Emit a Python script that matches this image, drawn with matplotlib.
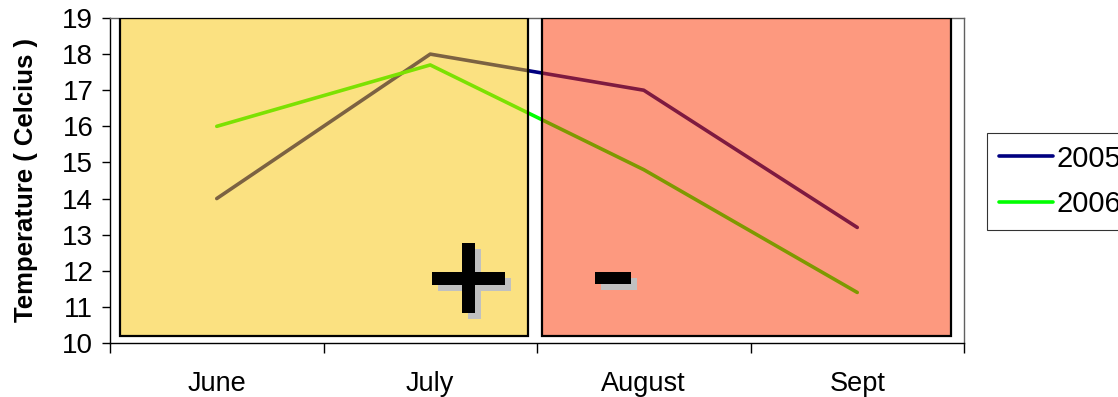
import matplotlib
matplotlib.use("Agg")
import matplotlib.pyplot as plt
from matplotlib.patches import Rectangle

months = ["June", "July", "August", "Sept"]
temp_2005 = [14.0, 18.0, 17.0, 13.2]
temp_2006 = [16.0, 17.7, 14.8, 11.4]
y_ticks = list(range(10, 20))

plt.rcParams['font.family'] = ['Liberation Sans', 'DejaVu Sans']

fig = plt.figure(figsize=(11.18, 3.97), dpi=100)
W, H = 1118, 397
ax = fig.add_axes([110 / W, 1 - 343 / H, (964 - 110) / W, (343 - 18) / H])

xpos = [i + 0.5 for i in range(len(months))]
ax.plot(xpos, temp_2005, color='#000080', lw=2.6, label='2005', zorder=2,
        solid_capstyle='round')
ax.plot(xpos, temp_2006, color='#00FF00', lw=2.6, label='2006', zorder=2,
        solid_capstyle='round')

# semi-transparent shaded panels over the lines
ax.add_patch(Rectangle((0.047, 10.19), 1.911, 8.81, facecolor='#F9C505',
                       alpha=0.5, edgecolor='none', zorder=3))
ax.add_patch(Rectangle((0.047, 10.19), 1.911, 8.81, facecolor='none',
                       edgecolor='black', lw=1.6, zorder=4))
ax.add_patch(Rectangle((2.023, 10.19), 1.917, 8.81, facecolor='#FD3501',
                       alpha=0.5, edgecolor='none', zorder=3))
ax.add_patch(Rectangle((2.023, 10.19), 1.917, 8.81, facecolor='none',
                       edgecolor='black', lw=1.6, zorder=4))

# plus / minus markers (with gray shadow)
def bar(x0, x1, y0, y1, color, z):
    # pixel coords -> data coords
    dx0 = (x0 - 110) / 213.5
    dx1 = (x1 - 110) / 213.5
    dy0 = 19 - (y1 - 18) / 36.11
    dy1 = 19 - (y0 - 18) / 36.11
    ax.add_patch(Rectangle((dx0, dy0), dx1 - dx0, dy1 - dy0, facecolor=color,
                           edgecolor='none', zorder=z))

for off, col, z in [(6, '#C0C0C0', 5), (0, 'black', 6)]:
    bar(432 + off, 505 + off, 272 + off, 285 + off, col, z)
    bar(462 + off, 475 + off, 243 + off, 313 + off, col, z)
    bar(595 + off, 631 + off, 272 + off, 284 + off, col, z)

ax.set_xlim(0, 4)
ax.set_ylim(10, 19)
ax.set_yticks(y_ticks)
ax.set_yticklabels([str(v) for v in y_ticks], fontsize=20)
ax.set_xticks(xpos)
ax.set_xticklabels(months, fontsize=19.5)
ax.set_xticks(range(0, 5), minor=True)
ax.tick_params(axis='x', which='major', length=0, pad=20)
ax.tick_params(axis='x', which='minor', length=7, direction='out', width=1)
ax.tick_params(axis='y', length=6, direction='out', width=1, pad=6)

ax.set_ylabel('Temperature ( Celcius )', fontsize=18.5, fontweight='bold')
ax.yaxis.set_label_coords(-(110 - 38) / 854, 0.5)

for s in ['left', 'bottom']:
    ax.spines[s].set_color('black')
    ax.spines[s].set_linewidth(1)
for s in ['top', 'right']:
    ax.spines[s].set_color('#606060')
    ax.spines[s].set_linewidth(1)

leg = fig.legend(loc='upper left', bbox_to_anchor=(987 / W, 1 - 133 / H),
                 fontsize=21, frameon=True, fancybox=False, edgecolor='black',
                 handlelength=1.85, handletextpad=0.15, borderpad=0.4,
                 labelspacing=0.6, borderaxespad=0, handleheight=0.7)
leg.get_frame().set_linewidth(0.8)

fig.savefig('out.png', dpi=100)
